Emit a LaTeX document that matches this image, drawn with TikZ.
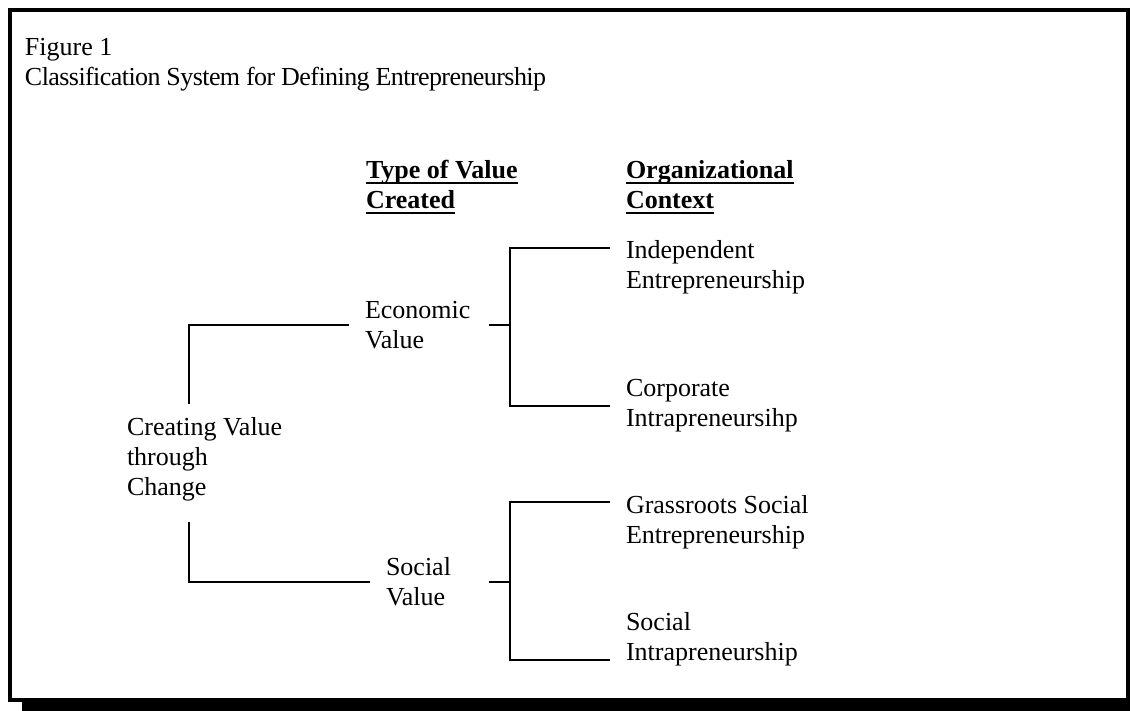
\documentclass[tikz,border=0pt]{standalone}
\usepackage{fontspec}
\setmainfont{Liberation Serif}
\usepackage{tikz}

% bold heading with a rule just under the baseline
\newsavebox\headbox
\newcommand{\ulhead}[1]{\sbox\headbox{#1}\rlap{\rule[-2.5pt]{\wd\headbox}{1pt}}\usebox\headbox}

\begin{document}
\begin{tikzpicture}[x=0.5pt,y=-0.5pt,
    txt/.style={align=left,anchor=west,inner sep=4pt,outer sep=4pt,
      font=\fontsize{13}{15}\selectfont},
    head/.style={txt,font=\fontsize{13}{15}\selectfont\bfseries},
    link/.style={line width=1pt}]
  \useasboundingbox (0,0) rectangle (1130,711);

  % Frame with drop shadow
  \fill (22,22) rectangle (1140,711);
  \draw[line width=1.8pt,fill=white] (10,10) rectangle (1128,700);

  % Caption
  \node[txt] (caption) at (9,65) {Figure 1\\{\addfontfeature{LetterSpace=-2.2}Classification System for Defining Entrepreneurship}};

  % Column headings
  \node[head] (typehead) at (350,187) {\ulhead{Type of Value}\\\ulhead{Created}};
  \node[head] (orghead) at (610,187) {\ulhead{Organizational}\\\ulhead{Context}};

  % Root and value types
  \node[txt] (root) at (111,459) {Creating Value\\through\\Change};
  \node[txt] (econ) at (349,325) {Economic\\Value};
  \node[txt] (social) at (370,582) {Social\\Value};

  % Organizational contexts
  \node[txt] (indep) at (610,267) {Independent\\Entrepreneurship};
  \node[txt] (corp) at (610,406) {Corporate\\Intrapreneursihp};
  \node[txt] (grass) at (610,522) {Grassroots Social\\Entrepreneurship};
  \node[txt] (sintra) at (610,639) {Social\\Intrapreneurship};

  % Root branches
  \coordinate (rt) at (189,404);
  \coordinate (rb) at (189,522);
  \draw[link] (rt) |- (econ.west);
  \draw[link] (rb) |- (social.west);

  % Economic bracket
  \coordinate (ea) at (489,325);
  \coordinate (ej) at (510,325);
  \coordinate (itop) at (610,248);
  \draw[link] (ea) -- (ej);
  \draw[link] (itop) -| (ej) |- (corp.west);

  % Social bracket
  \coordinate (sa) at (489,582);
  \coordinate (sj) at (510,582);
  \coordinate (gtop) at (610,502);
  \coordinate (sbot) at (610,660);
  \draw[link] (sa) -- (sj);
  \draw[link] (gtop) -| (sj) |- (sbot);

\end{tikzpicture}
\end{document}
